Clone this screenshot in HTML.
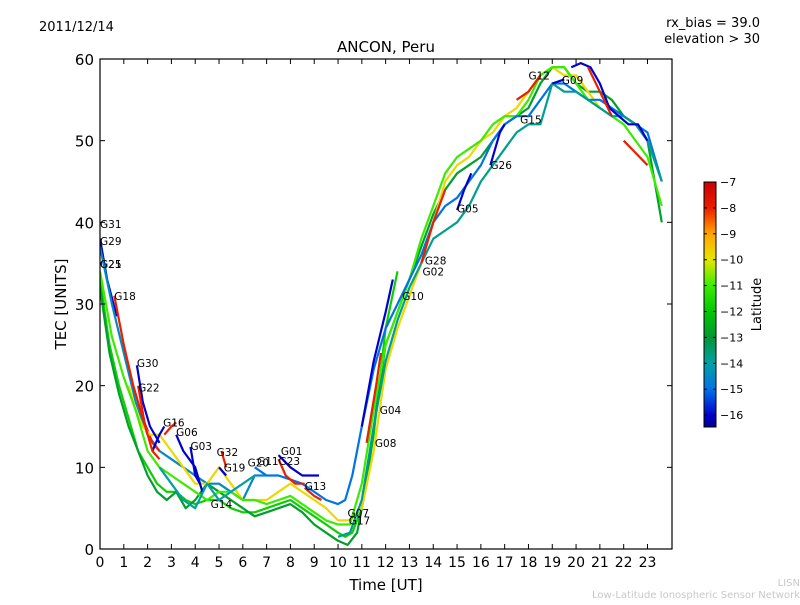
<!DOCTYPE html>
<html><head><meta charset="utf-8"><style>
body{margin:0;background:#fff;}
svg text{font-family:"DejaVu Sans","Liberation Sans",sans-serif;}
</style></head><body>
<svg id="c" width="800" height="600" xmlns="http://www.w3.org/2000/svg">
<rect width="800" height="600" fill="#fff"/>
<text x="39" y="31" font-size="13">2011/12/14</text>
<text x="760" y="27" font-size="13" text-anchor="end">rx_bias = 39.0</text>
<text x="760" y="43" font-size="13" text-anchor="end">elevation &gt; 30</text>
<text x="386" y="52" font-size="15" text-anchor="middle">ANCON, Peru</text>
<text x="386" y="590" font-size="15" text-anchor="middle">Time [UT]</text>
<text transform="translate(66,304) rotate(-90)" font-size="15" text-anchor="middle">TEC [UNITS]</text>
<text x="800" y="586" font-size="10" fill="#c8c8c8" text-anchor="end">LISN</text>
<text x="800" y="598" font-size="10" fill="#c8c8c8" text-anchor="end">Low-Latitude Ionospheric Sensor Network</text>
<g id="marks"></g>
<g id="axes"></g>
</svg>
<script>
const xTicks=[0,1,2,3,4,5,6,7,8,9,10,11,12,13,14,15,16,17,18,19,20,21,22,23];
const yTicks=[0,10,20,30,40,50,60];
const cbTicks=[-7,-8,-9,-10,-11,-12,-13,-14,-15,-16];
const seriesLat=[-16,-14.5,-8,-11.8,-12.8,-9.8,-11,-15,-13.8,-16,-16,-8,-8,-8,-8,-8,-16,-16,-16,-16,-16,-16,-16,-16,-16,-8,-8,-8,-8,-8,-14];
const seriesT=[
[0,0.3,0.7],
[0,0.5,1,1.5,2,2.5,3,3.5,4,4.5,5,5.5,6,6.5,7],
[0.6,1,1.4,1.8,2.2,2.5],
[0,0.4,0.8,1.2,1.6,2,2.4,2.8,3.2,3.6,4,4.5,5,5.5,6,6.5,7,7.5,8,8.5,9,9.5,10,10.3,10.6,11,11.5,12,12.5],
[0,0.4,0.8,1.2,1.6,2,2.4,2.8,3.2,3.6,4,4.5,5,5.5,6,6.5,7,7.5,8,8.5,9,9.5,10,10.4,10.8,11.2,11.6,12,12.5,13,13.5,14,14.5,15,15.5,16,16.5,17,17.5,18,18.5,19,19.5,20,20.5,21,21.5,22,22.5,23,23.6],
[1.2,1.5,1.8,2.1,2.5,3,3.5,4,4.5,5,5.5,6,6.5,7,7.5,8,8.5,9,9.5,10,10.5,11,11.5,12,12.5,13,13.5,14,14.5,15,15.5,16,16.5,17,17.5,18,18.5,19,19.5,20,20.5,21],
[0,0.5,1,1.5,2,2.5,3,3.5,4,4.5,5,5.5,6,6.5,7,7.5,8,8.5,9,9.5,10,10.5,11,11.5,12,12.5,13,13.5,14,14.5,15,15.5,16,16.5,17,17.5,18,18.5,19,19.5,20,20.5,21,21.5,22,22.5,23,23.6],
[6.5,7,7.5,8,8.5,9,9.5,10,10.3,10.6,11,11.5,12,12.5,13,13.5,14,14.5,15,15.5,16,16.5,17,17.5,18,18.5,19,19.5,20,20.5,21,21.5,22,22.5,23,23.6],
[10,10.5,11,11.5,12,12.5,13,13.5,14,14.5,15,15.5,16,16.5,17,17.5,18,18.5,19,19.5,20,20.5,21,21.5,22,22.5,23,23.6],
[19.8,20.2,20.6,21,21.4,21.8,22.2,22.6,23],
[19,19.5],
[11.2,11.6,11.8],[17.5,18,18.5],[20.5,21,21.5],[22,22.5,23],[13.5,14,14.5],
[11,11.5,12,12.3],[15,15.3,15.6],[16.4,16.8,17],[1.55,1.8,2.1,2.5],[3.2,3.5,4,4.3],[3.8,4,4.2],[7.5,8,8.5,9,9.2],[5,5.3],[2.2,2.5,2.7],
[2.7,3,3.2],[5.1,5.3],[7.5,7.8,8.2,8.6],[8.6,9,9.3],[1.6,1.9,2.2,2.5],
[2.5,3,3.5,4,4.5,5,5.5,6,6.5]
];
const seriesV=[
[38,33,28.5],
[37,30,24,18,14,12,11,10,9,8,8,7,6,9,9],
[31,25,20,16,13,12],
[33,25,20,16,12,10,8,7,7,6,5.5,6,6,5,4.5,4.5,5,5.5,6,5,4,3,2,1.5,2,5,14,27,34],
[32,24,19,15,12,9,7,6,7,5,6,8,7,6,5,4,4.5,5,5.5,4.5,3,2,1,0.5,2,8,17,25,29,33,37,41,44,46,47,48,50,52,53,54,57,59,59,57,56,56,55,53,52,50,40],
[20,17,15,14,14,12,10,8,8,10,8,6,6,6,7,8,7,6,5,3.5,3.5,5,12,22,27,31,35,40,45,47,48,50,51,53,54,56,58,59,58,58,56,54],
[34,26,21,17,12,10,9,8,7,6,7,7,6,6,5.5,6,6.5,5.5,4.5,3.5,3,3,8,17,25,29,33,38,42,46,48,49,50,52,53,53,55,58,59,59,57,55,54,53,52,50,48,42],
[10,9,9,8.5,8,7,6,5.5,6,9,15,22,27,30,33,36,40,42,43,45,47,50,52,53,53,55,57,57,56,55,55,54,53,52,51,45],
[1.5,2,6,15,23,28,32,35,38,39,40,42,45,47,49,51,52,52,57,56,56,55,54,53,53,52,50,45],
[59,59.5,59,57,54,53,52,52,50],
[57,57.5],
[13,20,24],[55,56,58],[59,56,53],[50,48.5,47],[35,40,44],
[15,23,29,33],[41.5,44,46],[47,51,52],[22.5,18,15,13],[14,12,10,7],[12.5,9,8],[11.5,10,9,9,9],[10,9],[12,14,15],
[14,15,15.5],[12,10],[11,9,8,8],[7.5,6.5,6],[20,15,12,11],
[10,8,6,5,8,6,7,8,9]
];
const labelNames=["G31","G29","G25","G21","G18","G30","G22","G16","G06","G03","G32","G19","G20","G11","G23","G01","G13","G14","G07","G17","G08","G04","G10","G28","G02","G05","G26","G15","G12","G09"];
const labelT=[0,0,0,0,0.6,1.55,1.6,2.65,3.2,3.8,4.9,5.2,6.2,6.6,7.5,7.6,8.6,4.65,10.4,10.45,11.55,11.75,12.7,13.65,13.55,15,16.4,17.65,18,19.4];
const labelV=[39.8,37.7,34.9,34.9,31,22.8,19.8,15.5,14.3,12.6,11.9,10,10.6,10.8,10.8,12,7.7,5.5,4.4,3.5,13,17,31,35.3,34,41.7,47,52.6,58,57.4];

const X0=100,X1=672,Y0=549,Y1=59,TMAX=24.03,VMAX=60;
const sx=t=>X0+t/TMAX*(X1-X0);
const sy=v=>Y0-v/VMAX*(Y0-Y1);
const LMIN=-16.46,LMAX=-7;
// colormap stops: [latitude, r,g,b]
const cmapStops=[[-16.46,0,0,140],[-16,0,0,205],[-15,0,115,230],[-14,0,160,165],[-13,0,150,55],[-12,0,200,0],[-11,60,235,0],[-10,230,230,0],[-9,255,165,0],[-8,235,30,0],[-7,200,0,0]];
function cmap(l){
 if(l<=cmapStops[0][0])return `rgb(${cmapStops[0].slice(1).join(',')})`;
 for(let i=1;i<cmapStops.length;i++){const a=cmapStops[i-1],b=cmapStops[i];
  if(l<=b[0]){const f=(l-a[0])/(b[0]-a[0]);return `rgb(${[1,2,3].map(k=>Math.round(a[k]+(b[k]-a[k])*f)).join(',')})`;}}
 return `rgb(${cmapStops[cmapStops.length-1].slice(1).join(',')})`;}
const NS="http://www.w3.org/2000/svg";
function mk(tag,attrs,parent){const e=document.createElementNS(NS,tag);for(const k in attrs)e.setAttribute(k,attrs[k]);parent.appendChild(e);return e;}
const marks=document.getElementById('marks');
const axes=document.getElementById('axes');
const svg=document.getElementById('c');
const defs=mk('defs',{},svg);
const cp=mk('clipPath',{id:'clip'},defs);
mk('rect',{x:X0,y:Y1,width:X1-X0,height:Y0-Y1},cp);
marks.setAttribute('clip-path','url(#clip)');
seriesT.forEach((ts,i)=>{
 const d=ts.map((t,j)=>(j?'L':'M')+sx(t).toFixed(1)+','+sy(seriesV[i][j]).toFixed(1)).join('');
 const p=mk('path',{d:d,fill:'none',stroke:cmap(seriesLat[i]),'stroke-width':2.2,'stroke-linejoin':'round'},marks);
 
 
});
labelNames.forEach((n,i)=>{
 const t=mk('text',{x:sx(labelT[i]),y:sy(labelV[i])+4,'font-size':10.5},marks);
 t.textContent=n;
 
 
});
mk('rect',{x:X0,y:Y1,width:X1-X0,height:Y0-Y1,fill:'none',stroke:'#000','stroke-width':1.2},axes);
xTicks.forEach(v=>{const x=sx(v);
 mk('line',{x1:x,x2:x,y1:Y0,y2:Y0-5,stroke:'#000'},axes);
 mk('line',{x1:x,x2:x,y1:Y1,y2:Y1+5,stroke:'#000'},axes);
 const t=mk('text',{x:x,y:Y0+18,'font-size':14,'text-anchor':'middle'},axes);t.textContent=v;
 
 
});
yTicks.forEach(v=>{const y=sy(v);
 mk('line',{x1:X0,x2:X0+5,y1:y,y2:y,stroke:'#000'},axes);
 mk('line',{x1:X1,x2:X1-5,y1:y,y2:y,stroke:'#000'},axes);
 const t=mk('text',{x:X0-6,y:y+6,'font-size':15,'text-anchor':'end'},axes);t.textContent=v;
 
 
});
// colorbar
const CX=704,CW=12,CT=182,CB=427;
const cy=l=>CB-(l-LMIN)/(LMAX-LMIN)*(CB-CT);
const lg=mk('linearGradient',{id:'cbg',x1:0,y1:1,x2:0,y2:0},defs);
cmapStops.forEach(s=>mk('stop',{offset:((s[0]-LMIN)/(LMAX-LMIN)).toFixed(4),'stop-color':`rgb(${s.slice(1).join(',')})`},lg));
const cb=mk('rect',{x:CX,y:CT,width:CW,height:CB-CT,fill:'url(#cbg)',stroke:'#000','stroke-width':1},axes);


cbTicks.forEach(l=>{const y=cy(l);
 mk('line',{x1:CX,x2:CX+3,y1:y,y2:y,stroke:'#000'},axes);
 mk('line',{x1:CX+CW,x2:CX+CW-3,y1:y,y2:y,stroke:'#000'},axes);
 const t=mk('text',{x:CX+CW+4,y:y+4,'font-size':11},axes);t.textContent='\u2212'+Math.abs(l);
 
 
});
const lt=mk('text',{transform:`translate(761,${(CT+CB)/2}) rotate(-90)`,'font-size':13,'text-anchor':'middle'},axes);
lt.textContent='Latitude';


</script>
</body></html>
